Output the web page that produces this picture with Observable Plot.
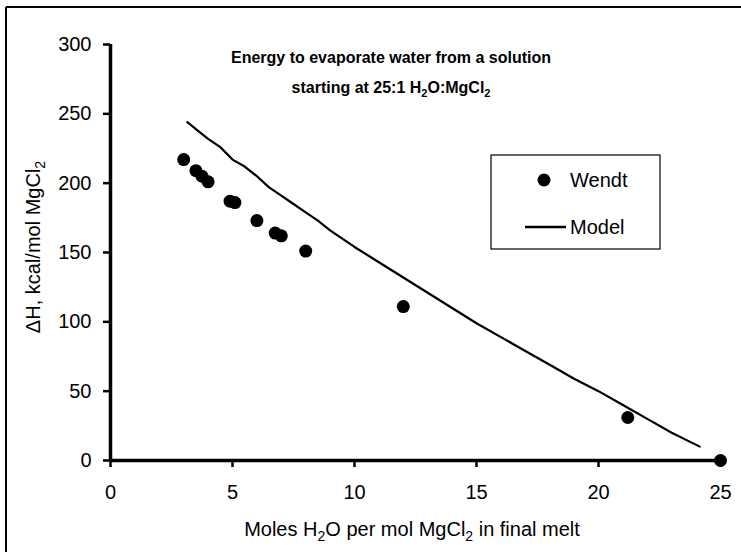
<!DOCTYPE html>
<html>
<head>
<meta charset="utf-8">
<script src="https://cdn.jsdelivr.net/npm/d3@7"></script>
<script src="https://cdn.jsdelivr.net/npm/@observablehq/plot@0.6"></script>
<style>
  html, body { margin: 0; padding: 0; background: #fff; }
  svg { display: block; }
</style>
</head>
<body>
<div id="chart"></div>
<script>
// Wendt measured data
const wendtX = [3.0, 3.5, 3.75, 4.0, 4.9, 5.1, 6.0, 6.75, 7.0, 8.0, 12.0, 21.2, 25];
const wendtY = [217, 209, 205, 201, 187, 186, 173, 164, 162, 151, 111, 31, 0];

// Model curve
const modelX = [3.15, 3.5, 4, 4.5, 5, 5.5, 6, 6.5, 7, 7.5, 8, 8.5, 9, 9.5, 10, 11, 12, 13, 14, 15, 16, 17, 18, 19, 20, 21, 22, 23, 24.15];
const modelY = [244, 239, 232, 226, 217, 212, 205, 197, 191, 185, 179, 173, 166, 160, 154, 143, 132, 121, 110, 99, 89, 79, 69, 59, 50, 40, 30, 20, 10];

const xTicks = [0, 5, 10, 15, 20, 25];
const yTicks = [0, 50, 100, 150, 200, 250, 300];

const wendt = wendtX.map((x, i) => ({x, y: wendtY[i]}));
const model = modelX.map((x, i) => ({x, y: modelY[i]}));

const W = 741, H = 552;
const plot = Plot.plot({
  width: W,
  height: H,
  marginLeft: 110,
  marginRight: 21,
  marginTop: 44,
  marginBottom: 92,
  style: {fontFamily: "'Liberation Sans', Arial, sans-serif", fontSize: "20px", color: "#000", background: "#fff"},
  x: {domain: [0, 25], label: null},
  y: {domain: [0, 300], label: null},
  marks: [
    Plot.axisX(xTicks, {tickSize: 7, tickPadding: 17, strokeWidth: 2.5, fontSize: 20, label: null}),
    Plot.axisY(yTicks, {tickSize: 7, tickPadding: 12, strokeWidth: 2.5, fontSize: 20, label: null}),
    Plot.ruleY([0], {strokeWidth: 3.5, stroke: "#000"}),
    Plot.ruleX([0], {y1: 0, y2: 300, strokeWidth: 3.5, stroke: "#000"}),
    Plot.line(model, {x: "x", y: "y", stroke: "#000", strokeWidth: 2.2}),
    Plot.dot(wendt, {x: "x", y: "y", r: 6.5, fill: "#000", stroke: "none"})
  ]
});

document.getElementById("chart").appendChild(plot);
const svg = d3.select(plot);
const font = "'Liberation Sans', Arial, sans-serif";

// outer frame (top and left edges)
svg.append("line").attr("x1", 6).attr("x2", W).attr("y1", 7).attr("y2", 7)
  .attr("stroke", "#000").attr("stroke-width", 2);
svg.append("line").attr("x1", 6).attr("x2", 6).attr("y1", 7).attr("y2", H)
  .attr("stroke", "#000").attr("stroke-width", 2);

// title
const title = svg.append("text").attr("text-anchor", "middle")
  .attr("font-family", font).attr("font-weight", "bold").attr("font-size", 16).attr("fill", "#000");
title.append("tspan").attr("x", 391).attr("y", 63).text("Energy to evaporate water from a solution");
const t2 = title.append("tspan").attr("x", 391).attr("y", 93);
t2.append("tspan").text("starting at 25:1 H");
t2.append("tspan").attr("dy", 4).attr("font-size", 11).text("2");
t2.append("tspan").attr("dy", -4).text("O:MgCl");
t2.append("tspan").attr("dy", 4).attr("font-size", 11).text("2");

// x axis label
const xl = svg.append("text").attr("text-anchor", "middle").attr("x", 412).attr("y", 536)
  .attr("font-family", font).attr("font-size", 20).attr("fill", "#000");
xl.append("tspan").text("Moles H");
xl.append("tspan").attr("dy", 5).attr("font-size", 14).text("2");
xl.append("tspan").attr("dy", -5).text("O per mol MgCl");
xl.append("tspan").attr("dy", 5).attr("font-size", 14).text("2");
xl.append("tspan").attr("dy", -5).text(" in final melt");

// y axis label
const yl = svg.append("text").attr("text-anchor", "middle")
  .attr("transform", "translate(40,247) rotate(-90)")
  .attr("font-family", font).attr("font-size", 20).attr("fill", "#000");
yl.append("tspan").text("ΔH, kcal/mol MgCl");
yl.append("tspan").attr("dy", 5).attr("font-size", 14).text("2");

// legend
const lg = svg.append("g");
lg.append("rect").attr("x", 491).attr("y", 155).attr("width", 169).attr("height", 94)
  .attr("fill", "#fff").attr("stroke", "#000").attr("stroke-width", 1.2);
lg.append("circle").attr("cx", 544).attr("cy", 180).attr("r", 6.5).attr("fill", "#000");
lg.append("text").attr("x", 570).attr("y", 187).attr("text-anchor", "start")
  .attr("font-family", font).attr("font-size", 20).attr("fill", "#000").text("Wendt");
lg.append("line").attr("x1", 525).attr("x2", 566).attr("y1", 227).attr("y2", 227)
  .attr("stroke", "#000").attr("stroke-width", 2.5);
lg.append("text").attr("x", 570).attr("y", 234).attr("text-anchor", "start")
  .attr("font-family", font).attr("font-size", 20).attr("fill", "#000").text("Model");
</script>
</body>
</html>
